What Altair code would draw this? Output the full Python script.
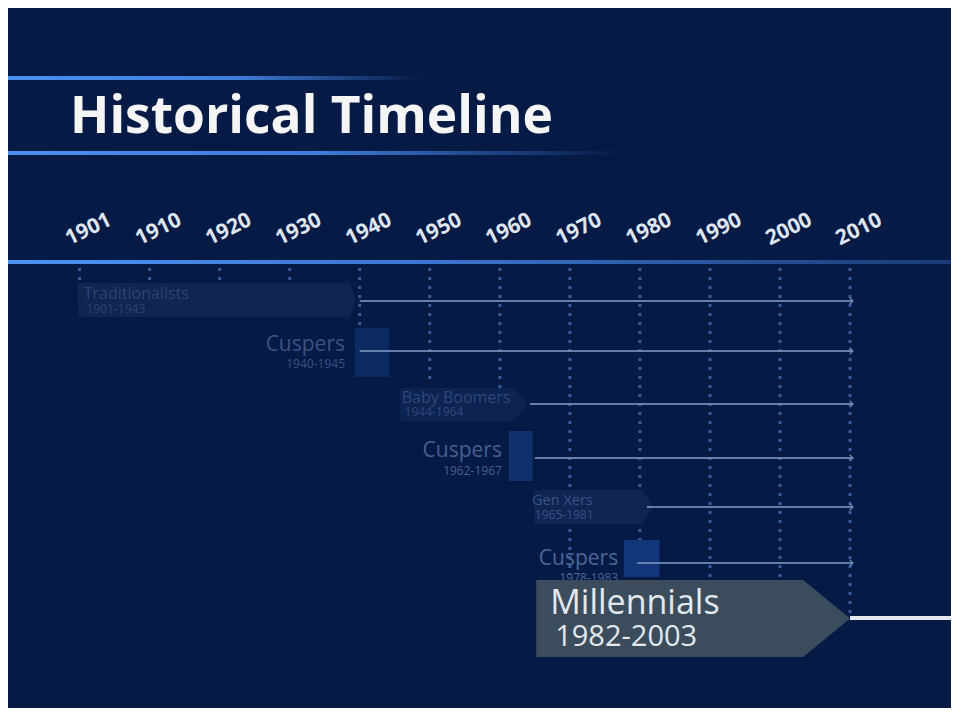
import altair as alt
import pandas as pd

# ---------------- data ----------------
title_text = "Historical Timeline"
tick_labels = ["1901", "1910", "1920", "1930", "1940", "1950", "1960",
               "1970", "1980", "1990", "2000", "2010"]
gen_names = ["Traditionalists", "Cuspers", "Baby Boomers", "Cuspers",
             "Gen Xers", "Cuspers", "Millennials"]
gen_years = ["1901-1943", "1940-1945", "1944-1964", "1962-1967",
             "1965-1981", "1978-1983", "1982-2003"]
# bar extents (in years)
bar_from = [1899.8, 1939.3, 1945.8, 1961.3, 1964.9, 1977.7, 1965.2]
bar_body_to = [1938.6, 1944.2, 1961.9, 1964.7, 1980.3, 1982.8, 2003.3]
bar_tip = [1939.4, 1944.2, 1964.0, 1964.7, 1981.9, 1982.8, 2010.0]
line_from = [1940.0, 1940.0, 1964.3, 1965.0, 1981.0, 1979.6, 2010.0]
line_to = [2010.4, 2010.4, 2010.4, 2010.4, 2010.4, 2010.4, 2025.0]

# ---------------- layout (page pixel rows) & styles ----------------
X_DOMAIN = [1889.79, 2024.41]
Y_DOMAIN = [8, 708]
W, H = 943, 700
BG = "#061a46"
SEAM = 0.3  # small overlap between box body and arrow tip (years)

row_top = [283, 328, 388, 431, 490, 540, 580]
row_bottom = [317, 377, 421, 481, 524, 577, 657]
row_line = [301, 351, 404, 458, 507, 563, 618]
name_x = [1900.6, 1937.9, 1946.0, 1960.3, 1964.6, 1976.9, 1967.2]
years_x = [1901.0, 1937.9, 1946.4, 1960.3, 1965.0, 1976.9, 1967.9]
name_base = [299, 351, 403, 457, 505, 565, 614]
years_base = [313, 368, 416, 475, 519, 582, 646]
name_size = [16, 21, 16, 21, 14.5, 21, 34]
years_size = [12, 12, 12, 12, 12, 12, 29]
name_align = ["left", "right", "left", "right", "left", "right", "left"]
box_fill = ["#10254f", "#0d2b63", "#0d2352", "#11316c", "#0f2554", "#12377a", "#3b4c5d"]
text_fill = ["#2c4474", "#3a5283", "#2f4879", "#485f8e", "#3b5283", "#4c6797", "#e4e8ec"]
line_color = ["#7088b6"] * 6 + ["#ffffff"]
grid_top = 268
grid_end = [304, 304, 304, 304, 372, 382, 395, 575, 600, 590, 590, 615]

xs = alt.Scale(domain=X_DOMAIN, nice=False, zero=False)
ys = alt.Scale(domain=Y_DOMAIN, nice=False, zero=False, reverse=True)

def X(f):
    return alt.X(f, type="quantitative", scale=xs, axis=None)

def Y(f):
    return alt.Y(f, type="quantitative", scale=ys, axis=None)

# ---------------- decorative gradient rules ----------------
deco = pd.DataFrame({
    "x": [X_DOMAIN[0]] * 3,
    "x2": [1948.6, 1977.2, X_DOMAIN[1]],
    "y": [76, 151, 260],
    "y2": [80, 155, 264],
    "k": ["a", "b", "c"],
})

def grad_rule(k, stops):
    return alt.Chart(deco[deco.k == k]).mark_rect(
        color=alt.Gradient(gradient="linear", x1=0, x2=1, y1=0, y2=0,
                           stops=[alt.GradientStop(color=c, offset=o) for o, c in stops])
    ).encode(x=X("x"), x2="x2", y=Y("y"), y2="y2")

rule1 = grad_rule("a", [(0, "#4a8ff0"), (0.55, "#3f7fdc"), (1, BG)])
rule2 = grad_rule("b", [(0, "#4a8ff0"), (0.5, "#3f7fdc"), (1, BG)])
rule3 = grad_rule("c", [(0, "#4d92f2"), (0.45, "#3a76d0"), (1, "#1a3a74")])

# ---------------- gridlines ----------------
tick_years = [int(t) // 10 * 10 for t in tick_labels]
grid = pd.DataFrame({"x": tick_years, "y": [grid_top] * len(tick_years), "y2": grid_end,
                     "yl": [234] * len(tick_years), "label": tick_labels})
gridlines = alt.Chart(grid).mark_rule(
    strokeDash=[3, 6], strokeWidth=3, color="#4169ad", opacity=0.85
).encode(x=X("x"), y=Y("y"), y2="y2")

year_labels = alt.Chart(grid).mark_text(
    angle=334, fontSize=21, fontWeight="bold", font="Open Sans", color="#dfe5ee",
    align="center", baseline="middle", dx=10
).encode(x=X("x"), y=Y("yl"), text="label:N")

# ---------------- generation shapes ----------------
bodies = pd.DataFrame({
    "gid": list(range(len(gen_names))), "x": bar_from, "x2": bar_body_to,
    "y": row_top, "y2": row_bottom, "fill": box_fill,
})
tips_pts = []
for i in range(len(gen_names)):
    if bar_tip[i] > bar_body_to[i]:
        mid = (row_top[i] + row_bottom[i]) / 2
        tips_pts.append({"gid": i, "x": bar_body_to[i] - SEAM, "y": row_top[i],
                         "y2": row_bottom[i], "fill": box_fill[i]})
        tips_pts.append({"gid": i, "x": bar_body_to[i], "y": row_top[i],
                         "y2": row_bottom[i], "fill": box_fill[i]})
        tips_pts.append({"gid": i, "x": bar_tip[i], "y": mid, "y2": mid, "fill": box_fill[i]})
tips = pd.DataFrame(tips_pts)

def boxes(sel):
    b = alt.Chart(bodies[sel(bodies.gid)]).mark_rect().encode(
        x=X("x"), x2="x2", y=Y("y"), y2="y2", color=alt.Color("fill:N", scale=None))
    t = alt.Chart(tips[sel(tips.gid)]).mark_area(opacity=1).encode(
        x=X("x"), y=Y("y"), y2="y2", color=alt.Color("fill:N", scale=None),
        detail="gid:N")
    return b + t

rows = pd.DataFrame({
    "gid": list(range(len(gen_names))), "name": gen_names, "years": gen_years,
    "lx": line_from, "lx2": line_to, "ly": row_line, "lc": line_color,
    "nx": name_x, "ny": name_base, "ns": name_size, "na": name_align,
    "yx": years_x, "yy": years_base, "yz": years_size, "tc": text_fill,
})
older = rows[rows.gid < 6]
mill = rows[rows.gid == 6]

def arrow_lines(df, width):
    return alt.Chart(df).mark_rule(strokeWidth=width, opacity=0.9).encode(
        x=X("lx"), x2="lx2", y=Y("ly"), color=alt.Color("lc:N", scale=None))

chevrons = alt.Chart(older).mark_point(
    shape="M-1,-1L0,0L-1,1", filled=False, size=40, strokeWidth=1.5, opacity=0.9
).encode(x=X("lx2"), y=Y("ly"), color=alt.Color("lc:N", scale=None))

def texts(df, align):
    d = df[df.na == align]
    base = alt.Chart(d)
    n = base.mark_text(align=align, baseline="alphabetic", font="Open Sans").encode(
        x=X("nx"), y=Y("ny"), text="name:N",
        size=alt.Size("ns:Q", scale=None), color=alt.Color("tc:N", scale=None))
    y = base.mark_text(align=align, baseline="alphabetic", font="Open Sans").encode(
        x=X("yx"), y=Y("yy"), text="years:N",
        size=alt.Size("yz:Q", scale=None), color=alt.Color("tc:N", scale=None))
    return n + y

title = alt.Chart(pd.DataFrame({"t": [title_text], "x": [1898.64], "y": [133]})).mark_text(
    align="left", baseline="alphabetic", font="Open Sans", fontWeight="bold",
    fontSize=51.5, color="#f5f5f5"
).encode(x=X("x"), y=Y("y"), text="t:N")

chart = alt.layer(
    rule1, rule2, rule3,
    gridlines,
    boxes(lambda g: g < 6),
    arrow_lines(older, 2), chevrons,
    texts(older, "left"), texts(older, "right"),
    boxes(lambda g: g == 6),
    arrow_lines(mill, 4),
    texts(mill, "left"),
    title, year_labels,
).properties(
    width=W, height=H, padding=0, autosize="none", background=BG
).configure_view(stroke=None, fill=BG)

chart.save("out.html", embed_options={"renderer": "svg", "actions": False})
